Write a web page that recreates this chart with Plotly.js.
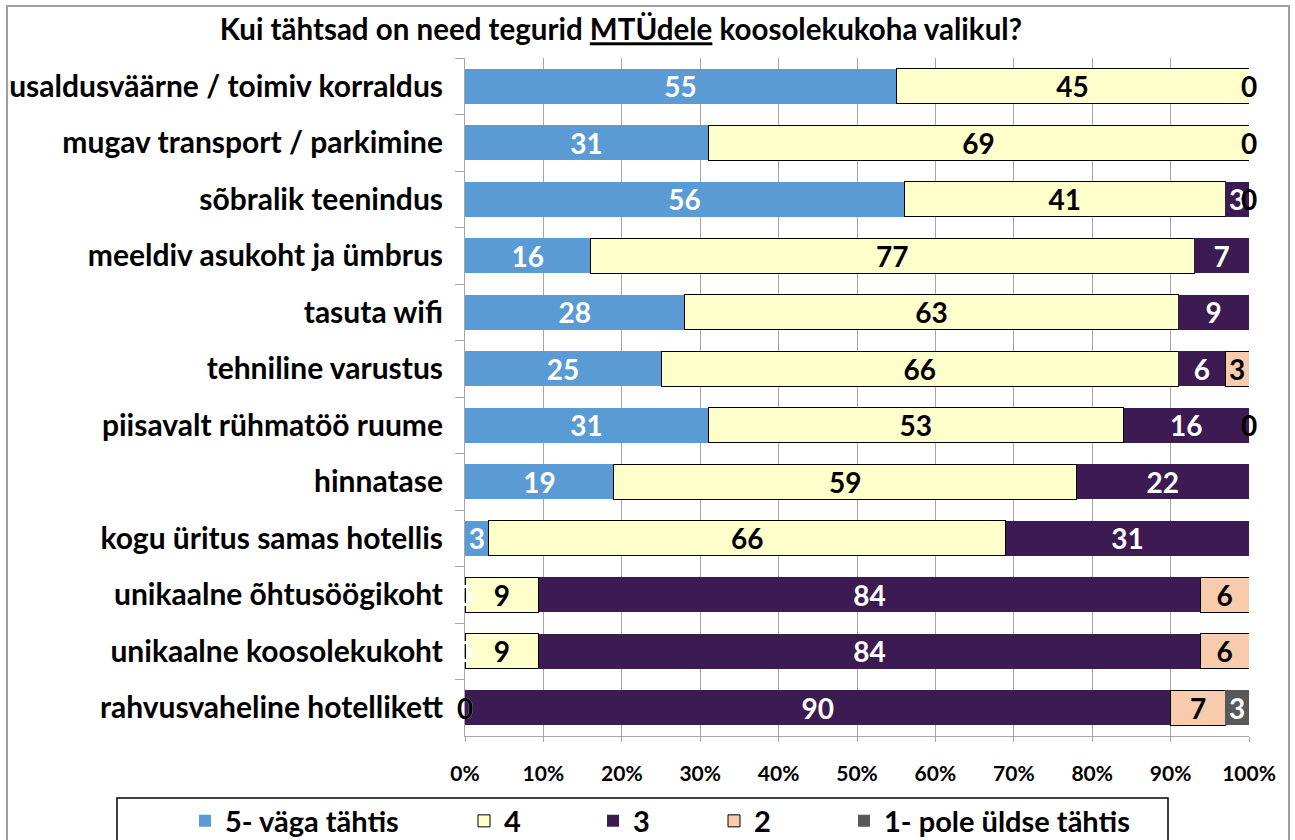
<!DOCTYPE html>
<html>
<head>
<meta charset="utf-8">
<script src="https://cdn.plot.ly/plotly-3.0.1.min.js"></script>
<style>html,body{margin:0;padding:0;background:#fff;}#chart{width:1295px;height:840px;}</style>
</head>
<body>
<div id="chart"></div>
<script>
const categories = [
  "usaldusväärne / toimiv korraldus",
  "mugav transport / parkimine",
  "sõbralik teenindus",
  "meeldiv asukoht ja ümbrus",
  "tasuta wifi",
  "tehniline varustus",
  "piisavalt rühmatöö ruume",
  "hinnatase",
  "kogu üritus samas hotellis",
  "unikaalne õhtusöögikoht",
  "unikaalne koosolekukoht",
  "rahvusvaheline hotellikett"
];
const seriesNames = ["5- väga tähtis", "4", "3", "2", "1- pole üldse tähtis"];
const s5 = [55, 31, 56, 16, 28, 25, 31, 19, 3, 0, 0, 0];
const s4 = [45, 69, 41, 77, 63, 66, 53, 59, 66, 9.4, 9.4, 0];
const s3 = [null, null, 3, 7, 9, 6, 16, 22, 31, 84.4, 84.4, 90];
const s2 = [0, 0, 0, null, null, 3, 0, null, null, 6.2, 6.2, 7];
const s1 = [null, null, null, null, null, null, null, null, null, 0, 0, 3];
const xTickVals = [0, 10, 20, 30, 40, 50, 60, 70, 80, 90, 100];
const xTickText = ["0%", "10%", "20%", "30%", "40%", "50%", "60%", "70%", "80%", "90%", "100%"];

const FONT = "Lato, 'Open Sans', sans-serif";
const seriesData = [s5, s4, s3, s2, s1];
const colors = ["#5B9BD5", "#FFFFCC", "#3C1A52", "#F8CBAD", "#595959"];
const lineColors = [null, "#000000", null, "#000000", null];
const labelColors = ["#FFFFFF", "#000000", "#FFFFFF", "#000000", "#FFFFFF"];
const legendIds = ["legend", "legend2", "legend3", "legend4", "legend5"];

// plot geometry (pixels)
const L = 465, R = 46, T = 58, B = 104;
const W = 1295 - L - R, H = 840 - T - B;
const px2x = p => (p - L) / W;
const py2y = p => (840 - B - p) / H;

const LABEL_SIZE = 28;

const traces = seriesData.map((vals, i) => ({
  type: "bar",
  orientation: "h",
  name: seriesNames[i],
  y: categories,
  x: vals,
  legend: legendIds[i],
  marker: {
    color: colors[i],
    line: lineColors[i] ? {color: lineColors[i], width: 1} : {width: 0}
  },
  text: vals.map(v => (v === null || v === 0) ? "" : String(Math.round(v))),
  textposition: "inside",
  insidetextanchor: "middle",
  textangle: 0,
  textfont: {family: FONT, size: LABEL_SIZE, color: labelColors[i], weight: 700},
  hoverinfo: "x+name"
}));

// labels for zero-valued segments, placed at their stacked position
const annotations = [];
const cum = categories.map(() => 0);
seriesData.forEach((vals, i) => {
  vals.forEach((v, j) => {
    if (v === 0) {
      annotations.push({
        x: cum[j], y: categories[j], xref: "x", yref: "y",
        text: "0", showarrow: false, xanchor: "center",
        font: {family: FONT, size: LABEL_SIZE, color: labelColors[i], weight: 700}
      });
    }
    if (v !== null) cum[j] += v;
  });
});

const legendTextStarts = [225, 504, 633, 754, 884];
const legends = {};
legendIds.forEach((id, i) => {
  legends[id] = {
    orientation: "h",
    x: px2x(legendTextStarts[i] - 40),
    xanchor: "left",
    y: py2y(821),
    yanchor: "middle",
    bgcolor: "rgba(0,0,0,0)",
    borderwidth: 0,
    font: {family: FONT, size: 29, color: "#000", weight: 700},
    traceorder: "normal"
  };
});

const layout = Object.assign({
  width: 1295,
  height: 840,
  margin: {l: L, r: R, t: T, b: B, pad: 0, autoexpand: false},
  paper_bgcolor: "#FFFFFF",
  plot_bgcolor: "#FFFFFF",
  barmode: "stack",
  bargap: 0.38,
  showlegend: true,
  uniformtext: {mode: "show", minsize: LABEL_SIZE},
  title: {
    text: "<b>Kui tähtsad on need tegurid <u>MTÜdele</u> koosolekukoha valikul?</b>",
    x: 621 / 1295, xref: "container", xanchor: "center",
    y: 1 - 30 / 840, yref: "container", yanchor: "middle",
    font: {family: FONT, size: 29.5, color: "#000"}
  },
  xaxis: {
    range: [0, 100],
    tickvals: xTickVals,
    ticktext: xTickText,
    showgrid: true,
    gridcolor: "#A6A6A6",
    gridwidth: 1,
    zeroline: false,
    showline: true,
    linecolor: "#A6A6A6",
    linewidth: 1,
    ticks: "outside",
    ticklen: 5,
    tickcolor: "#A6A6A6",
    ticklabelstandoff: 14,
    tickfont: {family: FONT, size: 21, color: "#000", weight: 700},
    fixedrange: true
  },
  yaxis: {
    autorange: "reversed",
    type: "category",
    showgrid: false,
    zeroline: false,
    showline: true,
    linecolor: "#A6A6A6",
    linewidth: 1,
    ticks: "outside",
    tickson: "boundaries",
    ticklen: 9,
    tickcolor: "#A6A6A6",
    ticklabelstandoff: 15,
    tickfont: {family: FONT, size: 30, color: "#000", weight: 700},
    fixedrange: true
  },
  annotations: annotations,
  shapes: [
    {type: "rect", xref: "paper", yref: "paper",
     x0: px2x(7), x1: px2x(1289), y0: py2y(860), y1: py2y(6),
     line: {color: "#A0A0A0", width: 2}, fillcolor: "rgba(0,0,0,0)", layer: "below"},
    {type: "rect", xref: "paper", yref: "paper",
     x0: px2x(117), x1: px2x(1168), y0: py2y(860), y1: py2y(798),
     line: {color: "#000000", width: 1.5}, fillcolor: "rgba(0,0,0,0)", layer: "above"}
  ]
}, legends);

Plotly.newPlot("chart", traces, layout, {displayModeBar: false, staticPlot: true});
</script>
</body>
</html>
